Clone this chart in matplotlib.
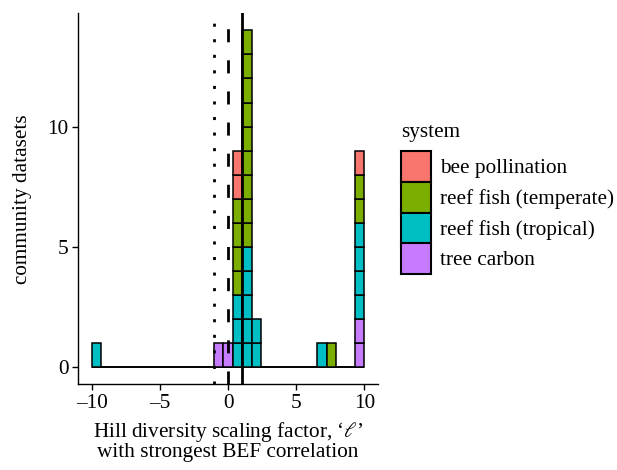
import numpy as np
import matplotlib
matplotlib.use("Agg")
import matplotlib.pyplot as plt
from matplotlib.patches import Patch

plt.rcParams['font.family'] = ['Liberation Serif', 'DejaVu Serif']
plt.rcParams['mathtext.fontset'] = 'stix'

# histogram bins for the Hill scaling factor (29 bins on [-10, 10])
bin_edges = np.linspace(-10, 10, 30)

systems = ["bee pollination", "reef fish (temperate)", "reef fish (tropical)", "tree carbon"]
colours = ["#F8766D", "#7CAE00", "#00BFC4", "#C77CFF"]

# number of community datasets per bin, for each system
bee_counts =       [0, 0, 0, 0, 0, 0, 0, 0, 0, 0, 0, 0, 0, 0, 0, 2, 0, 0, 0, 0, 0, 0, 0, 0, 0, 0, 0, 0, 1]
temperate_counts = [0, 0, 0, 0, 0, 0, 0, 0, 0, 0, 0, 0, 0, 0, 0, 4, 9, 0, 0, 0, 0, 0, 0, 0, 0, 1, 0, 0, 2]
tropical_counts =  [1, 0, 0, 0, 0, 0, 0, 0, 0, 0, 0, 0, 0, 0, 0, 3, 5, 2, 0, 0, 0, 0, 0, 0, 1, 0, 0, 0, 4]
tree_counts =      [0, 0, 0, 0, 0, 0, 0, 0, 0, 0, 0, 0, 0, 1, 1, 0, 0, 0, 0, 0, 0, 0, 0, 0, 0, 0, 0, 0, 2]

# reference Hill numbers: inverse Simpson, Shannon, richness
ref_ell = [-1, 0, 1]
ref_styles = ["dotted", "dashed", "solid"]

FS = 15.3

fig = plt.figure(figsize=(6.17, 4.70), dpi=100)
ax = fig.add_axes([78 / 617, 1 - 384 / 470, 300 / 617, (384 - 13.5) / 470])

left = bin_edges[:-1]
width = np.diff(bin_edges)
counts = [bee_counts, temperate_counts, tropical_counts, tree_counts]

# empty bins still get their outline drawn along zero
ax.bar(left, np.zeros(len(left)), width=width, align='edge', color='none',
       edgecolor='black', linewidth=1.4, zorder=2)

# one outlined cell per dataset, stacked from the last level (bottom) up
bottom = np.zeros(len(left))
for name, col, c in reversed(list(zip(systems, colours, counts))):
    c = np.array(c)
    for k in range(c.max()):
        sel = c > k
        ax.bar(left[sel], np.ones(sel.sum()), width=width[sel], bottom=bottom[sel] + k,
               align='edge', color=col, edgecolor='black', linewidth=1.1, zorder=2)
    bottom += c

dash_styles = {"dotted": (0, (1.1, 4.5)), "dashed": (0, (4.7, 6.5)), "solid": "-"}
for x, s in zip(ref_ell, ref_styles):
    ax.axvline(x, color='black', linewidth=2.0, linestyle=dash_styles[s],
               dash_capstyle='butt', zorder=3)

ax.set_xlim(-11, 11)
ax.set_ylim(-0.7, 14.7)
ax.set_xticks([-10, -5, 0, 5, 10])
ax.set_xticklabels(["\u201310", "\u20135", "0", "5", "10"])
ax.set_yticks([0, 5, 10])
for s in ["top", "right"]:
    ax.spines[s].set_visible(False)
for s in ["left", "bottom"]:
    ax.spines[s].set_linewidth(1.0)
ax.tick_params(labelsize=FS, length=4.5, width=1.0, pad=2.5, colors='black')

ax.set_ylabel("community datasets", fontsize=FS, labelpad=11)
ax.set_xlabel("Hill diversity scaling factor, \u2018$\\ell$\u2019\nwith strongest BEF correlation",
              fontsize=FS, labelpad=5, linespacing=0.95)

# legend: title set as its own text so it sits a little above the keys
fig.text(401 / 617, 1 - 132 / 470, "system", fontsize=FS, ha='left', va='center')
handles = [Patch(facecolor=c, edgecolor='black', linewidth=1.5) for c in colours]
leg = fig.legend(handles, systems, loc='upper left', bbox_to_anchor=(401 / 617, 1 - 151 / 470),
                 frameon=False, fontsize=FS,
                 handlelength=1.4, handleheight=1.85, labelspacing=0.0,
                 handletextpad=0.45, borderaxespad=0, borderpad=0)

fig.savefig("out.png", dpi=100)
